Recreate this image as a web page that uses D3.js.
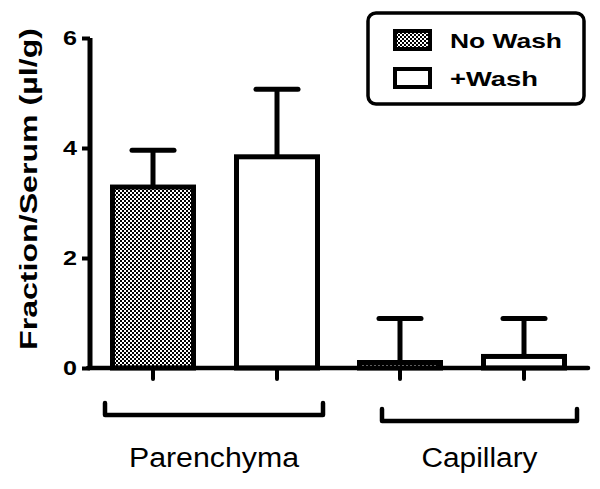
<!DOCTYPE html>
<html lang="en">
<head>
<meta charset="utf-8">
<title>Fraction/Serum</title>
<script src="https://d3js.org/d3.v7.min.js"></script>
<style>
    body { margin: 0; background: white; }
    svg { display: block; }
    text { font-family: "Liberation Sans", Arial, sans-serif; fill: black; }
</style>
</head>
<body>
<div id="chart"></div>
<script>
    // data
    var groups = ["Parenchyma", "Capillary"];
    var series = ["No Wash", "+Wash"];
    var noWashMean = [3.29, 0.10];
    var noWashErr = [0.67, 0.80];
    var washMean = [3.84, 0.21];
    var washErr = [1.23, 0.69];
    var yTicks = [0, 2, 4, 6];

    var width = 600, height = 489;

    var svg = d3.select("#chart").append("svg")
        .attr("width", width)
        .attr("height", height);

    // checker pattern for the No Wash bars
    var defs = svg.append("defs");
    var pat = defs.append("pattern")
        .attr("id", "checker")
        .attr("patternUnits", "userSpaceOnUse")
        .attr("width", 4).attr("height", 4);
    pat.append("rect").attr("width", 4).attr("height", 4).attr("fill", "#fff");
    pat.append("rect").attr("width", 2).attr("height", 2).attr("fill", "#000");
    pat.append("rect").attr("x", 2).attr("y", 2).attr("width", 2).attr("height", 2).attr("fill", "#000");

    var fills = { "No Wash": "url(#checker)", "+Wash": "#fff" };

    var rows = [];
    groups.forEach(function(g, i) {
        rows.push({ group: g, series: "No Wash", mean: noWashMean[i], err: noWashErr[i] });
        rows.push({ group: g, series: "+Wash", mean: washMean[i], err: washErr[i] });
    });

    var y = d3.scaleLinear().domain([0, 6]).range([368, 38]);
    var x0 = d3.scalePoint().domain(groups).range([215, 462]);
    var x1 = d3.scalePoint().domain(series).range([-62, 62]);
    var barW = 81;
    function cx(d) { return x0(d.group) + x1(d.series); }

    // y axis
    var yAxis = d3.axisLeft(y).tickValues(yTicks).tickFormat(d3.format("d"))
        .tickSize(8).tickPadding(5);
    var gy = svg.append("g").attr("transform", "translate(90,0)").call(yAxis);
    gy.select(".domain").attr("stroke-width", 5).attr("d", "M0," + y(6) + "V" + (y(0) + 2));
    gy.selectAll(".tick line").attr("stroke-width", 4);
    gy.selectAll(".tick text")
        .attr("font-size", 21).attr("font-weight", "bold")
        .attr("font-family", "Liberation Sans, Arial, sans-serif")
        .attr("textLength", 14).attr("lengthAdjust", "spacingAndGlyphs");

    // bars
    svg.selectAll(".bar").data(rows).enter().append("rect")
        .attr("class", "bar")
        .attr("x", function(d) { return cx(d) - barW / 2; })
        .attr("y", function(d) { return y(d.mean); })
        .attr("width", barW)
        .attr("height", function(d) { return y(0) - y(d.mean); })
        .attr("fill", function(d) { return fills[d.series]; })
        .attr("stroke", "#000")
        .attr("stroke-width", 5);

    // error bars
    svg.selectAll(".err").data(rows).enter().append("line")
        .attr("x1", cx).attr("x2", cx)
        .attr("y1", function(d) { return y(d.mean); })
        .attr("y2", function(d) { return y(d.mean + d.err); })
        .attr("stroke", "#000").attr("stroke-width", 5);
    svg.selectAll(".cap").data(rows).enter().append("line")
        .attr("x1", function(d) { return cx(d) - 21; })
        .attr("x2", function(d) { return cx(d) + 21; })
        .attr("y1", function(d) { return y(d.mean + d.err); })
        .attr("y2", function(d) { return y(d.mean + d.err); })
        .attr("stroke", "#000").attr("stroke-width", 5)
        .attr("stroke-linecap", "round");

    // x axis line and ticks
    svg.append("line")
        .attr("x1", 88).attr("x2", 588)
        .attr("y1", y(0)).attr("y2", y(0))
        .attr("stroke", "#000").attr("stroke-width", 4.5)
        .attr("stroke-linecap", "round");
    svg.selectAll(".xt").data(rows).enter().append("line")
        .attr("x1", cx).attr("x2", cx)
        .attr("y1", y(0)).attr("y2", y(0) + 11)
        .attr("stroke", "#000").attr("stroke-width", 4)
        .attr("stroke-linecap", "round");

    // group brackets
    var brackets = { "Parenchyma": [-110, 108, 415], "Capillary": [-80, 115, 421] };
    groups.forEach(function(g) {
        var b = brackets[g];
        var xa = x0(g) + b[0], xb = x0(g) + b[1], yb = b[2];
        svg.append("path")
            .attr("d", "M" + xa + "," + (yb - 12) + "V" + yb + "H" + xb + "V" + (yb - 12))
            .attr("fill", "none").attr("stroke", "#000").attr("stroke-width", 4.5)
            .attr("stroke-linecap", "round").attr("stroke-linejoin", "round");
    });
    var labelLen = { "Parenchyma": 170, "Capillary": 116 };
    groups.forEach(function(g) {
        var b = brackets[g];
        svg.append("text")
            .attr("x", x0(g) + (b[0] + b[1]) / 2)
            .attr("y", 467)
            .attr("text-anchor", "middle")
            .attr("font-size", 27)
            .attr("textLength", labelLen[g]).attr("lengthAdjust", "spacingAndGlyphs")
            .text(g);
    });

    // y axis title
    svg.append("text")
        .attr("transform", "translate(37,189) rotate(-90)")
        .attr("text-anchor", "middle")
        .attr("font-size", 23).attr("font-weight", "bold")
        .attr("textLength", 322).attr("lengthAdjust", "spacingAndGlyphs")
        .text("Fraction/Serum (µl/g)");

    // legend
    var lg = svg.append("g");
    lg.append("rect")
        .attr("x", 368).attr("y", 13).attr("width", 216).attr("height", 91)
        .attr("rx", 8).attr("fill", "#fff")
        .attr("stroke", "#000").attr("stroke-width", 3.5);
    var legLen = { "No Wash": 112, "+Wash": 88 };
    series.forEach(function(s, i) {
        var yy = 40 + i * 38;
        lg.append("rect")
            .attr("x", 395).attr("y", yy - 9).attr("width", 35).attr("height", 18)
            .attr("fill", fills[s]).attr("stroke", "#000").attr("stroke-width", 4);
        lg.append("text")
            .attr("x", 450).attr("y", yy + 7.5)
            .attr("font-size", 21).attr("font-weight", "bold")
            .attr("textLength", legLen[s]).attr("lengthAdjust", "spacingAndGlyphs")
            .text(s);
    });
</script>
</body>
</html>
